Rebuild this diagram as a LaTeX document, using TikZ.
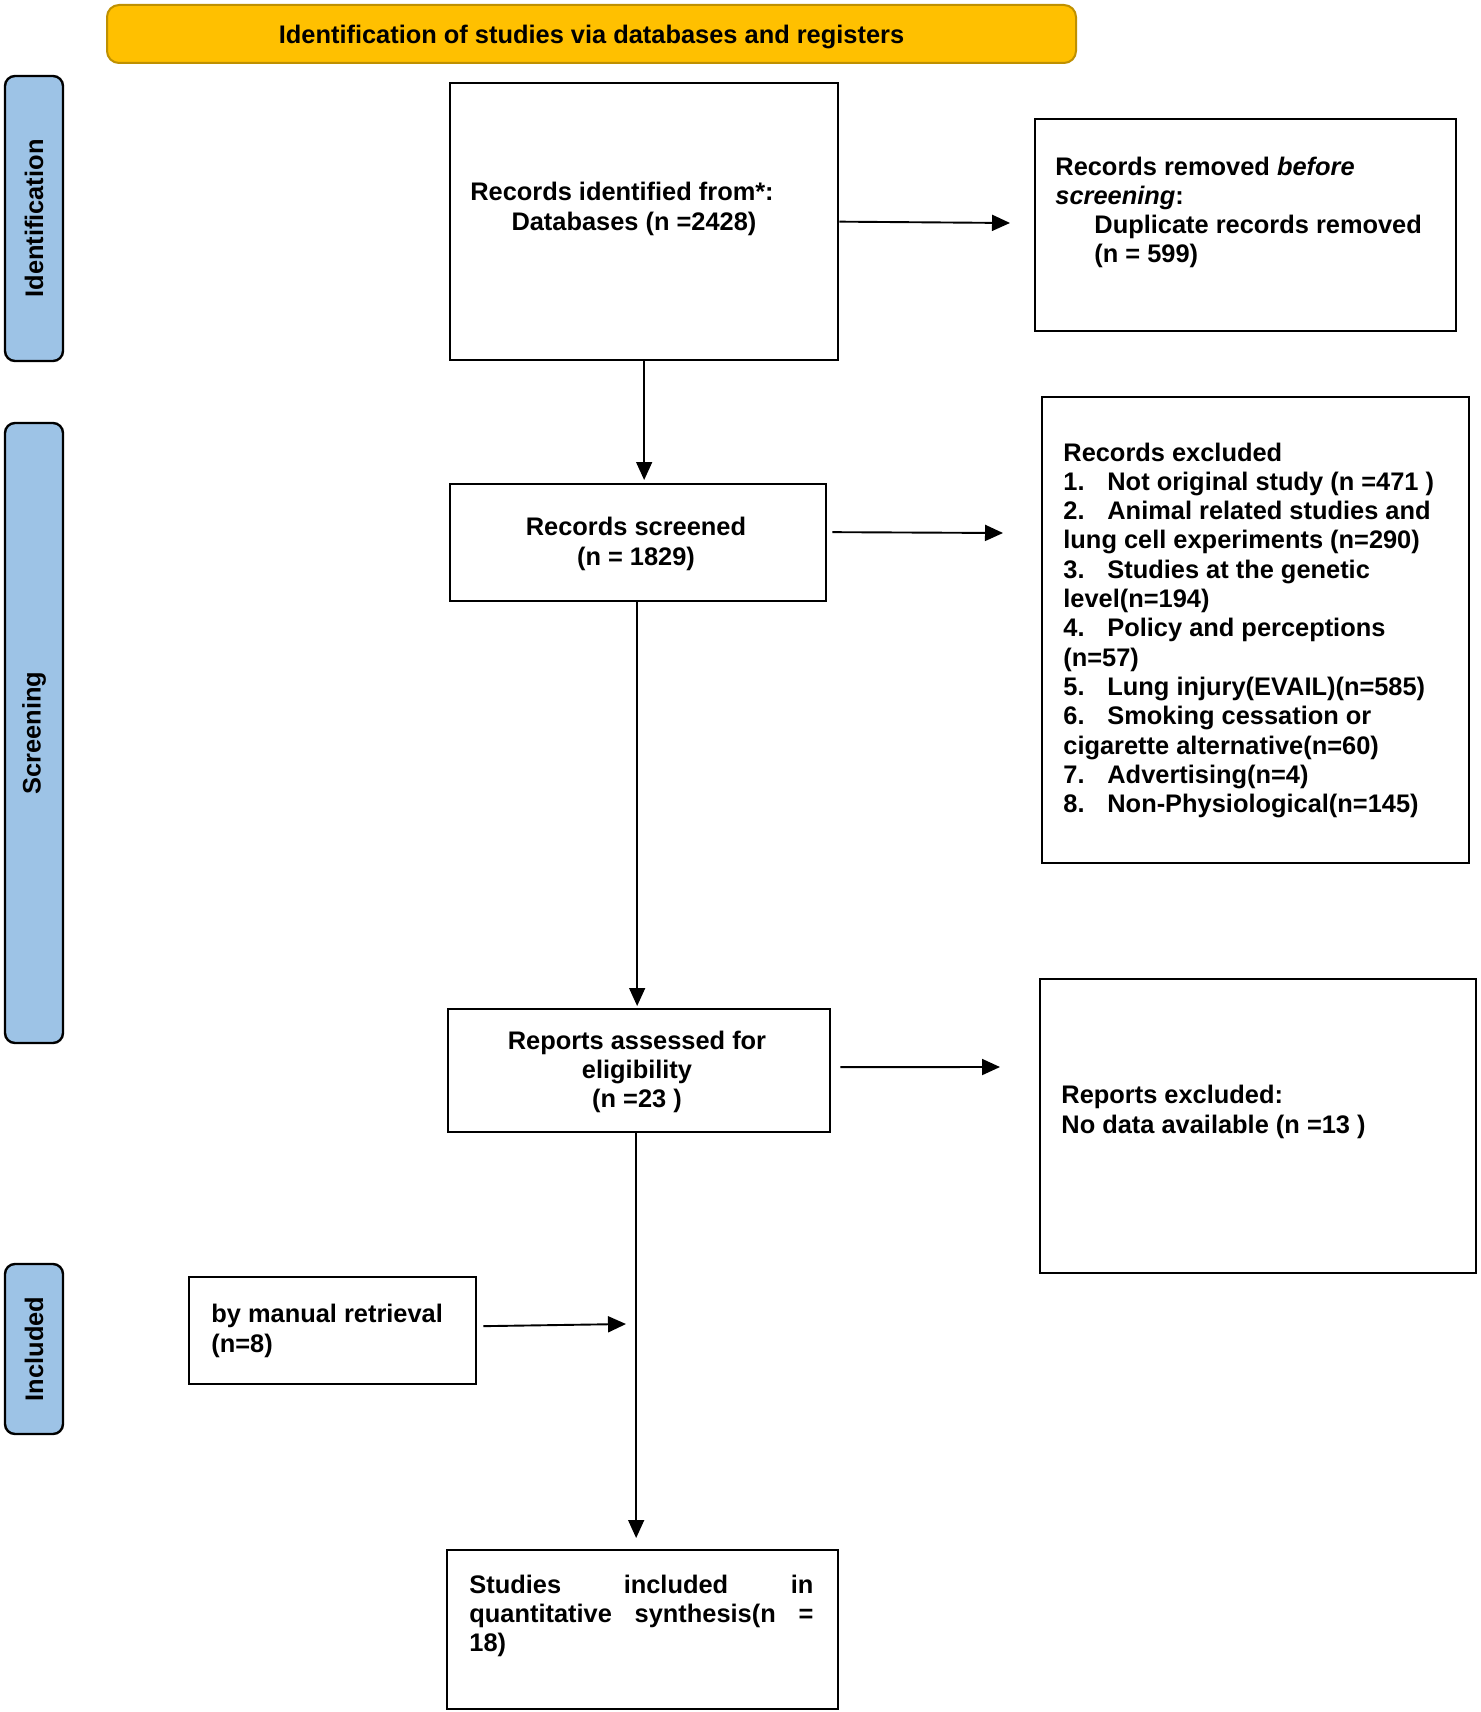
\documentclass[tikz,border=0pt]{standalone}
\usepackage{fontspec}
\setmainfont{Liberation Sans}
\usetikzlibrary{arrows.meta}
\definecolor{bannerfill}{HTML}{FFC000}
\definecolor{bannerdraw}{HTML}{BF9000}
\definecolor{phaseblue}{HTML}{9DC3E6}
\begin{document}
\begin{tikzpicture}[x=0.5pt,y=-0.5pt,
  every node/.style={font=\fontsize{12.7pt}{14.65pt}\selectfont\bfseries, inner sep=0pt},
  box/.style={draw=black, line width=1.15pt, fill=white, anchor=north west},
  txt/.style={anchor=base west, align=left},
  ctxt/.style={anchor=base, align=center},
  phase/.style={draw=black, line width=1.2pt, fill=phaseblue, rounded corners=5pt, rotate=90, minimum height=29pt},
  banner/.style={draw=bannerdraw, line width=1pt, fill=bannerfill, rounded corners=6pt},
  harrow/.style={-{Triangle[length=9pt,width=8pt]}, line width=0.95pt},
  varrow/.style={-{Triangle[length=9pt,width=8pt]}, line width=0.75pt},
]
\useasboundingbox[fill=white] (0,0) rectangle (1480,1712);

% banner
\node[banner, minimum width=484.5pt, minimum height=29pt] (ban) at (591.5,34) {};
\node (bant) at (591.5,36.5) {Identification of studies via databases and registers};

% phase labels
\node[phase, minimum width=142.5pt] (pid) at (34,218.5) {Identification};
\node[phase, minimum width=310pt] (psc) at (34,733) {Screening};
\node[phase, minimum width=85pt] (pin) at (34,1349) {Included};

% boxes
\node[box, minimum width=194pt, minimum height=138.5pt] (b1) at (449,82) {};
\node[box, minimum width=210.5pt, minimum height=106pt] (b2) at (1034,118) {};
\node[box, minimum width=188pt, minimum height=58.5pt] (b3) at (449,483) {};
\node[box, minimum width=213.5pt, minimum height=233pt] (b4) at (1041,396) {};
\node[box, minimum width=191pt, minimum height=61.5pt] (b5) at (447,1008) {};
\node[box, minimum width=218pt, minimum height=147pt] (b6) at (1039,978) {};
\node[box, minimum width=143.5pt, minimum height=53.5pt] (b7) at (188,1276) {};
\node[box, minimum width=195.5pt, minimum height=79.5pt] (b8) at (446,1549) {};

% texts (base anchor = baseline of the last line)
\node[ctxt] (b1t) at (628,230.3) {Records identified from*:\hspace*{6pt}\\\hspace*{6pt}Databases (n =2428)};
\node[txt] (b2t) at (1055,263) {Records removed \textit{before}\\\textit{screening}:\\\hspace*{19.5pt}Duplicate records removed\\\hspace*{19.5pt}(n = 599)};
\node[ctxt] (b3t) at (636,565) {Records screened\\(n = 1829)};
\node[txt] (b4t) at (1063,812.6) {Records excluded\\
\makebox[22pt][l]{1.}Not original study (n =471 )\\
\makebox[22pt][l]{2.}Animal related studies and\\
lung cell experiments (n=290)\\
\makebox[22pt][l]{3.}Studies at the genetic\\
level(n=194)\\
\makebox[22pt][l]{4.}Policy and perceptions\\
(n=57)\\
\makebox[22pt][l]{5.}Lung injury(EVAIL)(n=585)\\
\makebox[22pt][l]{6.}Smoking cessation or\\
cigarette alternative(n=60)\\
\makebox[22pt][l]{7.}Advertising(n=4)\\
\makebox[22pt][l]{8.}Non-Physiological(n=145)};
\node[ctxt] (b5t) at (637,1107.6) {Reports assessed for\\eligibility\\(n =23 )};
\node[txt] (b6t) at (1061,1133) {Reports excluded:\\No data available (n =13 )};
\node[txt] (b7t) at (211,1352) {by manual retrieval\\(n=8)};
\node[txt, text width=172pt] (b8t) at (469,1593) {\leavevmode\hbox to 172pt{Studies\hfill included\hfill in}\\\leavevmode\hbox to 172pt{quantitative\hfill synthesis(n\hfill =}\\18)};

% arrow end points
\coordinate (t1) at (1010,223);
\coordinate (t2) at (1003,533);
\coordinate (t3) at (1000,1067);
\coordinate (t4) at (626,1324);

% connectors
\draw[harrow] (b1.east) -- (t1);
\draw[harrow] ([shift={(2.5pt,5.25pt)}]b3.east) -- (t2);
\draw[harrow] ([shift={(4.5pt,1.75pt)}]b5.east) -- (t3);
\draw[harrow] ([shift={(3pt,2.25pt)}]b7.east) -- (t4);
\draw[varrow, shorten >=1.5pt] (b1.south) -- (b1.south |- b3.north);
\draw[varrow, shorten >=1pt] ([xshift=-0.5pt]b3.south) -- ([xshift=-0.5pt]b3.south |- b5.north);
\draw[varrow, shorten >=5.5pt] ([xshift=-1.5pt]b5.south) -- ([xshift=-1.5pt]b5.south |- b8.north);
\end{tikzpicture}
\end{document}
